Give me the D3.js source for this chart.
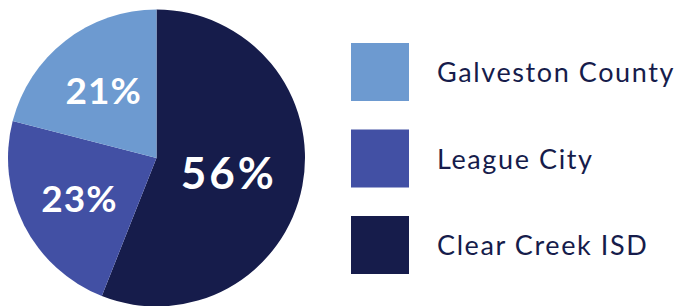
<!DOCTYPE html>
<html>
<head>
<meta charset="utf-8">
<script src="https://cdn.jsdelivr.net/npm/d3@7"></script>
<style>
  html, body { margin: 0; padding: 0; background: #fff; }
  svg { display: block; }
</style>
</head>
<body>
<svg id="chart" width="678" height="306"></svg>
<script>
const categories = ["Clear Creek ISD", "League City", "Galveston County"];
const values = [56, 23, 21];
const colors = ["#161c4b", "#4250a4", "#6d9ad0"];
const legendOrder = ["Galveston County", "League City", "Clear Creek ISD"];

const svg = d3.select("#chart");
const cx = 156.5, cy = 158, r = 148.5;

const data = categories.map((c, i) => ({ name: c, value: values[i], color: colors[i] }));

const pie = d3.pie().value(d => d.value).sort(null);
const arc = d3.arc().innerRadius(0).outerRadius(r);

const g = svg.append("g").attr("transform", `translate(${cx},${cy})`);
const arcs = pie(data);

g.selectAll("path").data(arcs).join("path")
  .attr("d", arc)
  .attr("fill", d => d.data.color);

g.selectAll("text").data(arcs).join("text")
  .each(function(d) {
    const big = d.data.value > 50;
    const lr = big ? 72 : 87;
    const la = d3.arc().innerRadius(lr).outerRadius(lr);
    const [x, y] = la.centroid(d);
    d3.select(this).attr("x", x + (big ? 1.5 : 0.5)).attr("y", y);
  })
  .attr("text-anchor", "middle")
  .attr("dominant-baseline", "central")
  .attr("fill", "#fff")
  .attr("font-family", "Lato, 'Open Sans', sans-serif")
  .attr("font-weight", 700)
  .attr("font-size", d => d.data.value > 50 ? 44 : 37)
  .attr("letter-spacing", d => d.data.value > 50 ? 3 : 1)
  .text(d => d.data.value + "%");

const colorOf = d3.scaleOrdinal().domain(categories).range(colors);
const y = d3.scalePoint().domain(legendOrder).range([72, 245]);

const leg = svg.append("g");
const items = leg.selectAll("g").data(legendOrder).join("g")
  .attr("transform", d => `translate(351,${y(d)})`);

items.append("rect")
  .attr("x", 0).attr("y", -29)
  .attr("width", 58).attr("height", 58)
  .attr("fill", d => colorOf(d));

items.append("text")
  .attr("x", 86)
  .attr("y", 10)
  .attr("fill", "#161c4b")
  .attr("font-family", "Lato, 'Open Sans', sans-serif")
  .attr("font-size", 27)
  .attr("letter-spacing", 1.6)
  .text(d => d);
</script>
</body>
</html>
